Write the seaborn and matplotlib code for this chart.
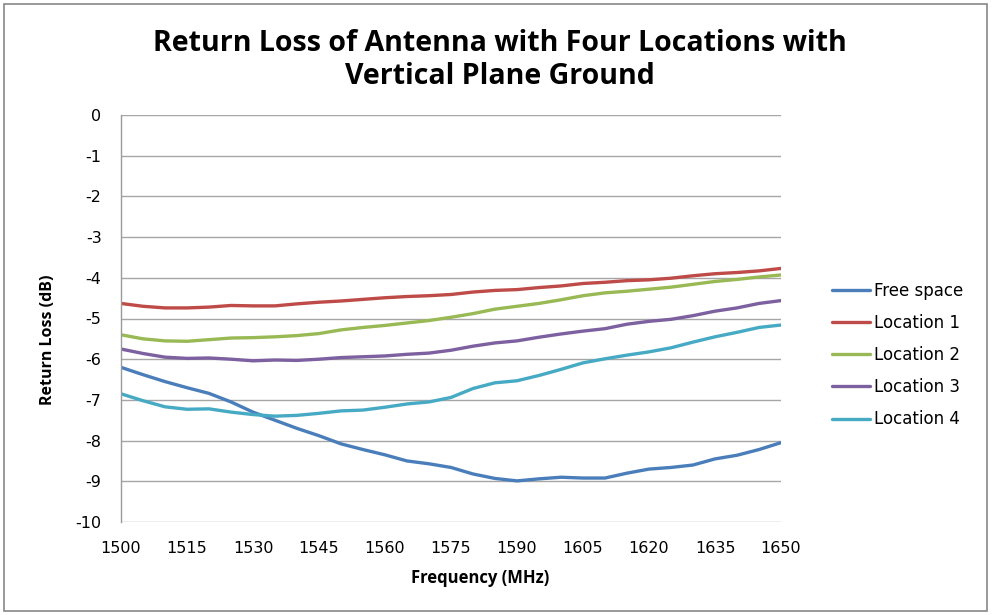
import matplotlib
matplotlib.use("Agg")
import matplotlib.pyplot as plt
import seaborn as sns
import pandas as pd
from matplotlib.patches import Rectangle

freq = list(range(1500, 1651, 5))
free_space = [-6.20, -6.38, -6.55, -6.70, -6.84, -7.05, -7.30, -7.50, -7.70, -7.88,
              -8.08, -8.22, -8.35, -8.50, -8.57, -8.66, -8.82, -8.93, -8.99, -8.94,
              -8.90, -8.92, -8.92, -8.80, -8.70, -8.66, -8.60, -8.45, -8.36, -8.22, -8.05]
location1 = [-4.63, -4.70, -4.74, -4.74, -4.72, -4.68, -4.69, -4.69, -4.64, -4.60,
             -4.57, -4.53, -4.49, -4.46, -4.44, -4.41, -4.35, -4.31, -4.29, -4.24,
             -4.20, -4.14, -4.11, -4.07, -4.05, -4.01, -3.95, -3.90, -3.87, -3.83, -3.77]
location2 = [-5.40, -5.50, -5.55, -5.56, -5.52, -5.48, -5.47, -5.45, -5.42, -5.37,
             -5.28, -5.22, -5.17, -5.11, -5.05, -4.97, -4.88, -4.77, -4.70, -4.63,
             -4.54, -4.44, -4.37, -4.33, -4.28, -4.23, -4.16, -4.09, -4.04, -3.98, -3.93]
location3 = [-5.75, -5.86, -5.95, -5.98, -5.97, -6.00, -6.04, -6.02, -6.03, -6.00,
             -5.96, -5.94, -5.92, -5.88, -5.85, -5.78, -5.68, -5.60, -5.55, -5.46,
             -5.38, -5.31, -5.25, -5.14, -5.07, -5.02, -4.93, -4.82, -4.74, -4.63, -4.56]
location4 = [-6.85, -7.02, -7.17, -7.23, -7.22, -7.30, -7.36, -7.40, -7.38, -7.33,
             -7.27, -7.25, -7.18, -7.10, -7.05, -6.94, -6.72, -6.58, -6.53, -6.40,
             -6.25, -6.09, -5.99, -5.90, -5.82, -5.72, -5.58, -5.45, -5.34, -5.22, -5.16]

series_names = ["Free space", "Location 1", "Location 2", "Location 3", "Location 4"]
series_vals = [free_space, location1, location2, location3, location4]
colors = ["#4A7EBB", "#BE4B48", "#98B954", "#7D60A0", "#46AAC5"]
x_ticks = list(range(1500, 1651, 15))
y_ticks = list(range(-10, 1, 1))

rows = []
for name, vals in zip(series_names, series_vals):
    for f, v in zip(freq, vals):
        rows.append({"Frequency": f, "Return Loss": v, "Series": name})
df = pd.DataFrame(rows)

sns.set_style("white")
plt.rcParams["font.family"] = ["DejaVu Sans"]
plt.rcParams["axes.unicode_minus"] = False
plt.rcParams["text.color"] = "#000000"
plt.rcParams["axes.labelcolor"] = "#000000"

fig = plt.figure(figsize=(9.93, 6.15), dpi=100)
ax = fig.add_axes([121/993, 1-522/615, 660/993, 407/615])

sns.lineplot(data=df, x="Frequency", y="Return Loss", hue="Series",
             hue_order=series_names, palette=colors, linewidth=2.4, ax=ax,
             legend=True)

ax.set_xlim(1500, 1650)
ax.set_ylim(-10, 0)
ax.set_xticks(x_ticks)
ax.set_yticks(y_ticks)
ax.tick_params(axis="x", length=0, pad=14, labelsize=11.5, colors="#000000")
ax.tick_params(axis="y", length=6, width=1, color="#9A9A9A", direction="out",
               pad=8, labelsize=11.5, labelcolor="#000000")
ax.grid(axis="y", color="#A6A6A6", linewidth=1)
ax.set_axisbelow(True)
for side in ["top", "right", "bottom"]:
    ax.spines[side].set_visible(False)
ax.spines["left"].set_color("#9A9A9A")
ax.spines["left"].set_linewidth(1)

ax.set_xlabel("Frequency (MHz)", fontsize=12, fontweight="bold", color="#000000",
              family=["Open Sans", "DejaVu Sans"])
ax.set_ylabel("Return Loss (dB)", fontsize=11.5, fontweight="bold", color="#000000",
              family=["Open Sans", "DejaVu Sans"])
ax.xaxis.set_label_coords((480 - 121) / 660, -(578 - 522) / 407)
ax.yaxis.set_label_coords(-(121 - 48) / 660, (522 - 340) / 407)
ax.xaxis.label.set_va("center")
ax.yaxis.label.set_va("center")

ax.get_legend().remove()
handles, labels = ax.get_legend_handles_labels()
leg = fig.legend(handles, labels, loc="center left", bbox_to_anchor=(817/993, 1-355/615),
                 frameon=False, fontsize=12, handlelength=2.3, handletextpad=0.25,
                 labelspacing=0.85)
for t in leg.get_texts():
    t.set_color("#000000")

fig.suptitle("Return Loss of Antenna with Four Locations with\nVertical Plane Ground",
             x=500/993, y=1-29/615, va="top", fontsize=20.5, fontweight="bold",
             family=["Open Sans", "DejaVu Sans"], linespacing=1.2, color="#000000")

fig.patches.append(Rectangle((4/993, 4/615), 983/993, 607/615, transform=fig.transFigure,
                             fill=False, edgecolor="#888888", linewidth=1.2))

fig.savefig("out.png", dpi=100)
